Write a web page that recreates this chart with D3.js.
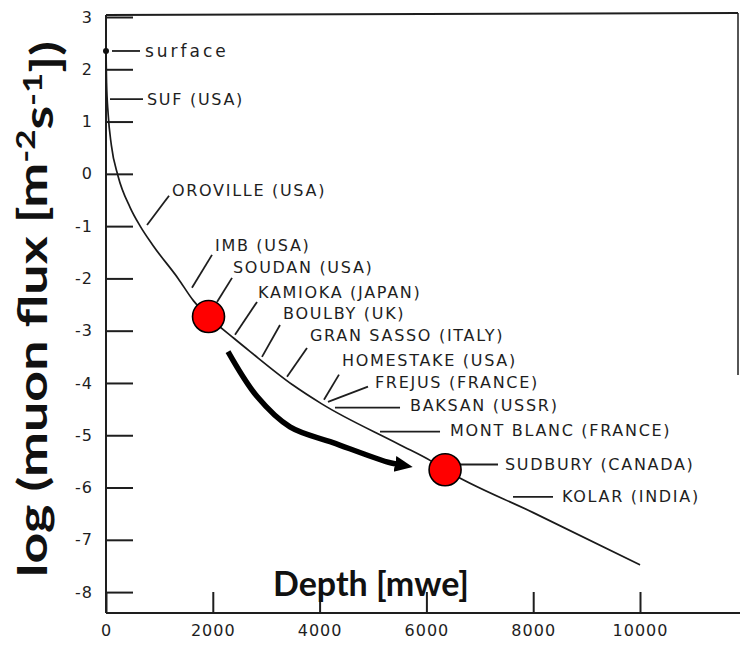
<!DOCTYPE html>
<html>
<head>
<meta charset="utf-8">
<script src="https://cdn.jsdelivr.net/npm/d3@7"></script>
<style>
  html, body { margin: 0; padding: 0; background: #fff; }
  svg { display: block; }
  .tick text { font-family: "DejaVu Sans", sans-serif; font-size: 16px; fill: #1e1e1e; letter-spacing: 1px; }
  .tick line { stroke: #1e1e1e; stroke-width: 2; }
  .site { font-family: "DejaVu Sans", sans-serif; font-size: 16px; fill: #1e1e1e; letter-spacing: 1.7px; }
  .site.lower { font-size: 17px; letter-spacing: 3px; }
  .title { font-family: Lato, "Open Sans", sans-serif; font-weight: 700; fill: #111; }
</style>
</head>
<body>
<svg id="chart" width="740" height="646"></svg>
<script>
// Depth–intensity relation: log10 of the vertical muon flux versus depth (metres water equivalent)
const depthMwe = [0, 10, 40, 100, 225, 450, 640, 880, 1350, 1640, 1920, 2400, 2700, 3500, 4040, 5500, 6100, 6350, 8000, 10000];
const logFlux  = [2.35, 1.75, 1.15, 0.55, -0.04, -0.64, -1.0, -1.37, -2.0, -2.43, -2.73, -3.15, -3.40, -4.04, -4.40, -5.18, -5.50, -5.66, -6.48, -7.48];

const xTicks = [0, 2000, 4000, 6000, 8000, 10000];
const yTicks = [3, 2, 1, 0, -1, -2, -3, -4, -5, -6, -7, -8];

// Underground laboratories: label anchor and leader line, in (depth, log flux) units
const siteNames = ["surface", "SUF (USA)", "OROVILLE (USA)", "IMB (USA)", "SOUDAN (USA)", "KAMIOKA (JAPAN)",
  "BOULBY (UK)", "GRAN SASSO (ITALY)", "HOMESTAKE (USA)", "FREJUS (FRANCE)", "BAKSAN (USSR)",
  "MONT BLANC (FRANCE)", "SUDBURY (CANADA)", "KOLAR (INDIA)"];
const labelDepth = [730, 768, 1236, 2041, 2378, 2846, 3315, 3820, 4419, 5037, 5693, 6442, 7472, 8539];
const labelLog   = [2.35, 1.43, -0.31, -1.36, -1.78, -2.26, -2.66, -3.08, -3.56, -3.98, -4.42, -4.90, -5.56, -6.16];
const leaderFromDepth = [112, 75, 1180, 1985, 2360, 2828, 3258, 3764, 4363, 4906, 4288, 5131, 6629, 7622];
const leaderFromLog   = [2.35, 1.43, -0.42, -1.55, -1.99, -2.45, -2.89, -3.33, -3.84, -4.07, -4.47, -4.93, -5.56, -6.18];
const leaderToDepth   = [637, 693, 768, 1610, 2079, 2416, 2921, 3390, 4082, 4157, 5506, 6255, 7341, 8371];
const leaderToLog     = [2.35, 1.43, -0.98, -2.18, -2.45, -3.08, -3.50, -3.88, -4.32, -4.36, -4.47, -4.93, -5.56, -6.18];

// Highlighted sites on the curve
const markerDepth = [1920, 6350];
const markerLog   = [-2.73, -5.66];

// Arrow from the shallower to the deeper highlighted site
const arrowDepth = [2285, 2830, 3445, 4250, 5260, 5430];
const arrowLog   = [-3.40, -4.26, -4.84, -5.14, -5.51, -5.55];

const W = 740, H = 646;
const svg = d3.select("#chart");

const x = d3.scaleLinear().domain([0, 10000]).range([106, 640]);
const y = d3.scaleLinear().domain([-8.4, 3]).range([613, 17]);

// axes (ticks point inward)
const yAxis = svg.append("g")
  .attr("transform", `translate(${x(0)},0)`)
  .call(d3.axisLeft(y).tickValues(yTicks).tickSizeInner(-27).tickSizeOuter(0).tickPadding(13)
    .tickFormat(d => String(d)));
yAxis.select(".domain").remove();

const xAxis = svg.append("g")
  .attr("transform", `translate(0,${y(-8.4)})`)
  .call(d3.axisBottom(x).tickValues(xTicks).tickSizeInner(-21).tickSizeOuter(0).tickPadding(12)
    .tickFormat(d => String(d)));
xAxis.select(".domain").remove();

// frame
const frame = svg.append("g").attr("stroke", "#1e1e1e").attr("stroke-width", 2).attr("fill", "none");
frame.append("line").attr("x1", x(0)).attr("x2", x(0)).attr("y1", 15).attr("y2", y(-8.4));
frame.append("line").attr("x1", x(0)).attr("x2", W).attr("y1", y(-8.4)).attr("y2", y(-8.4));
frame.append("line").attr("x1", x(0)).attr("x2", 738).attr("y1", 15).attr("y2", 13);
frame.append("line").attr("x1", 738).attr("x2", 738).attr("y1", 13).attr("y2", 375).attr("stroke-width", 1.5);

// depth-intensity curve
const curvePts = depthMwe.map((d, i) => [d, logFlux[i]]);
svg.append("path")
  .datum(curvePts)
  .attr("fill", "none")
  .attr("stroke", "#1a1a1a")
  .attr("stroke-width", 1.7)
  .attr("d", d3.line().x(d => x(d[0])).y(d => y(d[1])).curve(d3.curveMonotoneX));

// surface point
svg.append("circle").attr("cx", x(depthMwe[0])).attr("cy", y(logFlux[0])).attr("r", 3).attr("fill", "#111");

// site leaders and labels
const sites = siteNames.map((n, i) => ({
  name: n, tx: labelDepth[i], ty: labelLog[i],
  x1: leaderFromDepth[i], y1: leaderFromLog[i], x2: leaderToDepth[i], y2: leaderToLog[i]
}));
svg.append("g").selectAll("line").data(sites).join("line")
  .attr("x1", d => x(d.x1)).attr("y1", d => y(d.y1))
  .attr("x2", d => x(d.x2)).attr("y2", d => y(d.y2))
  .attr("stroke", "#1e1e1e").attr("stroke-width", 1.8);
svg.append("g").selectAll("text").data(sites).join("text")
  .attr("class", d => d.name === d.name.toUpperCase() ? "site" : "site lower")
  .attr("x", d => x(d.tx)).attr("y", d => y(d.ty))
  .attr("dy", "0.36em")
  .text(d => d.name);

// arrow
const defs = svg.append("defs");
defs.append("marker")
  .attr("id", "head")
  .attr("markerUnits", "userSpaceOnUse")
  .attr("viewBox", "0 -10 20 20")
  .attr("markerWidth", 20).attr("markerHeight", 20)
  .attr("refX", 1).attr("refY", 0)
  .attr("orient", "auto")
  .append("path").attr("d", "M0,-8L18,0L0,8Z").attr("fill", "#000");
svg.append("path")
  .datum(arrowDepth.map((d, i) => [d, arrowLog[i]]))
  .attr("fill", "none")
  .attr("stroke", "#000")
  .attr("stroke-width", 5.5)
  .attr("marker-end", "url(#head)")
  .attr("d", d3.line().x(d => x(d[0])).y(d => y(d[1])).curve(d3.curveCatmullRom));

// highlighted sites
svg.append("g").selectAll("circle").data(markerDepth).join("circle")
  .attr("cx", d => x(d)).attr("cy", (d, i) => y(markerLog[i]))
  .attr("r", 16)
  .attr("fill", "#ff0000").attr("stroke", "#000").attr("stroke-width", 1.6);

// axis titles
svg.append("text").attr("class", "title")
  .attr("x", 371).attr("y", 596)
  .attr("text-anchor", "middle")
  .style("font-size", "34px")
  .text("Depth [mwe]");

// y title: stretched along its run so that it spans about y=40 to y=578
const yTitleLen = 536, yTitleMid = 309;
const yt = svg.append("text").attr("class", "title")
  .attr("text-anchor", "middle")
  .style("font-size", "40px");
yt.append("tspan").text("log (muon flux [m");
yt.append("tspan").attr("dy", "-0.45em").style("font-size", "0.65em").text("-2");
yt.append("tspan").attr("dy", "0.45em").text("s");
yt.append("tspan").attr("dy", "-0.45em").style("font-size", "0.65em").text("-1");
yt.append("tspan").attr("dy", "0.45em").text("])");
const stretch = yTitleLen / yt.node().getComputedTextLength();
yt.attr("transform", `translate(47,${yTitleMid}) rotate(-90) scale(${stretch.toFixed(3)},1)`);
</script>
</body>
</html>
